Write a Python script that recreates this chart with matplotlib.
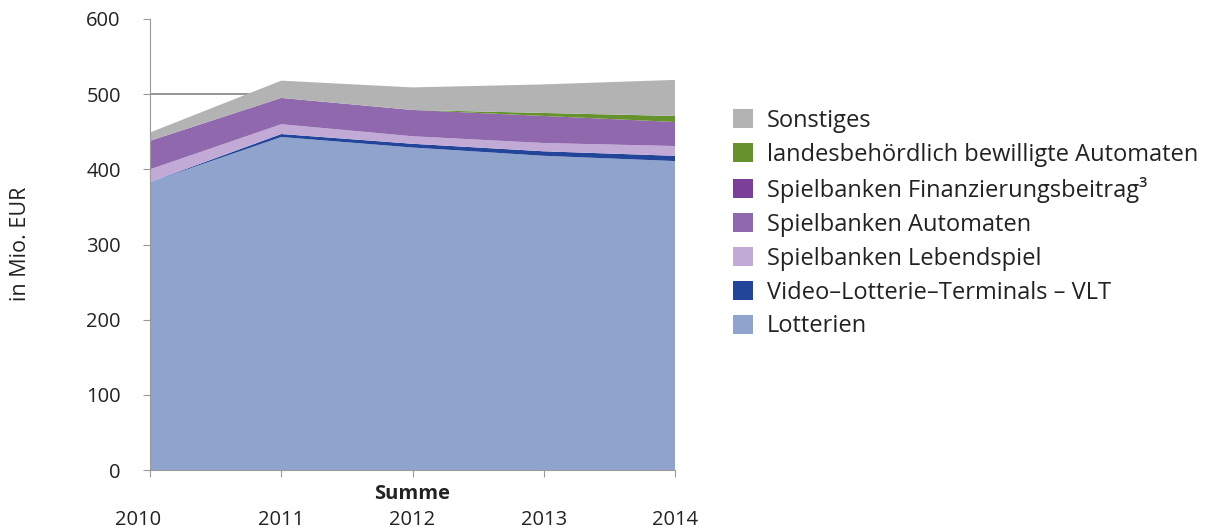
import matplotlib
matplotlib.use('Agg')
import matplotlib.pyplot as plt
import matplotlib.transforms as mtransforms

# --- data (Mio. EUR) ---
years = [2010, 2011, 2012, 2013, 2014]
lotterien = [383, 443, 429, 418, 411]
vlt = [0, 4, 5, 6, 7]
lebendspiel = [17, 13, 10, 11, 13]
automaten = [38, 35, 35, 36, 32]
finanzierung = [0, 0, 0, 0, 0]
landes_automaten = [0, 0, 0, 4, 8]
sonstiges = [11, 23, 30, 38, 48]

labels = ['Lotterien', 'Video\u2013Lotterie\u2013Terminals \u2013 VLT',
          'Spielbanken Lebendspiel', 'Spielbanken Automaten',
          'Spielbanken Finanzierungsbeitrag\u00b3',
          'landesbehördlich bewilligte Automaten', 'Sonstiges']
colors = ['#8FA3CC', '#22459A', '#C1ABD6', '#9068AD', '#7B3F98',
          '#66922E', '#B3B3B3']

plt.rcParams['font.family'] = ['Open Sans', 'DejaVu Sans']
text_color = '#222222'

fig = plt.figure(figsize=(12.08, 5.31), dpi=100)
ax = fig.add_axes([150 / 1208, 61 / 531, 525 / 1208, 451 / 531])

series = [lotterien, vlt, lebendspiel, automaten, finanzierung,
          landes_automaten, sonstiges]
ax.stackplot(years, *series, colors=colors, labels=labels,
             linewidth=0, zorder=2)

# only the 500 gridline shows in the reference
ax.axhline(500, color='#8C8C8C', linewidth=1.3, zorder=1)

ax.set_xlim(2010, 2014)
ax.set_ylim(0, 600)
ax.set_yticks(range(0, 601, 100))
ax.set_xticks(years)
ax.tick_params(axis='y', labelsize=14.5, length=5, color='#999999',
               labelcolor=text_color, pad=16)
ax.tick_params(axis='x', labelsize=14.5, length=5, color='#999999',
               labelcolor=text_color, pad=24)
for s in ['top', 'right']:
    ax.spines[s].set_visible(False)
for s in ['left', 'bottom']:
    ax.spines[s].set_color('#999999')

# first year label sits a bit left of its tick
lbl0 = ax.get_xticklabels()[0]
lbl0.set_transform(lbl0.get_transform() +
                   mtransforms.ScaledTranslation(-0.12, 0, fig.dpi_scale_trans))

ax.text(0.5, -24 / 451, 'Summe', transform=ax.transAxes, ha='center',
        va='center', fontsize=14.5, fontweight='bold', color=text_color)
fig.text(21 / 1208, 1 - 244 / 531, 'in Mio. EUR', rotation=90, ha='center',
         va='center', fontsize=15.5, color=text_color)

handles, lbls = ax.get_legend_handles_labels()
fig.legend(handles[::-1], lbls[::-1], loc='upper left',
           bbox_to_anchor=(733 / 1208, 1 - 109 / 531), frameon=False,
           fontsize=17, handlelength=0.85, handleheight=0.85,
           handletextpad=0.6, labelspacing=0.42, borderaxespad=0,
           borderpad=0, labelcolor=text_color)

fig.savefig('out.png', dpi=100)
